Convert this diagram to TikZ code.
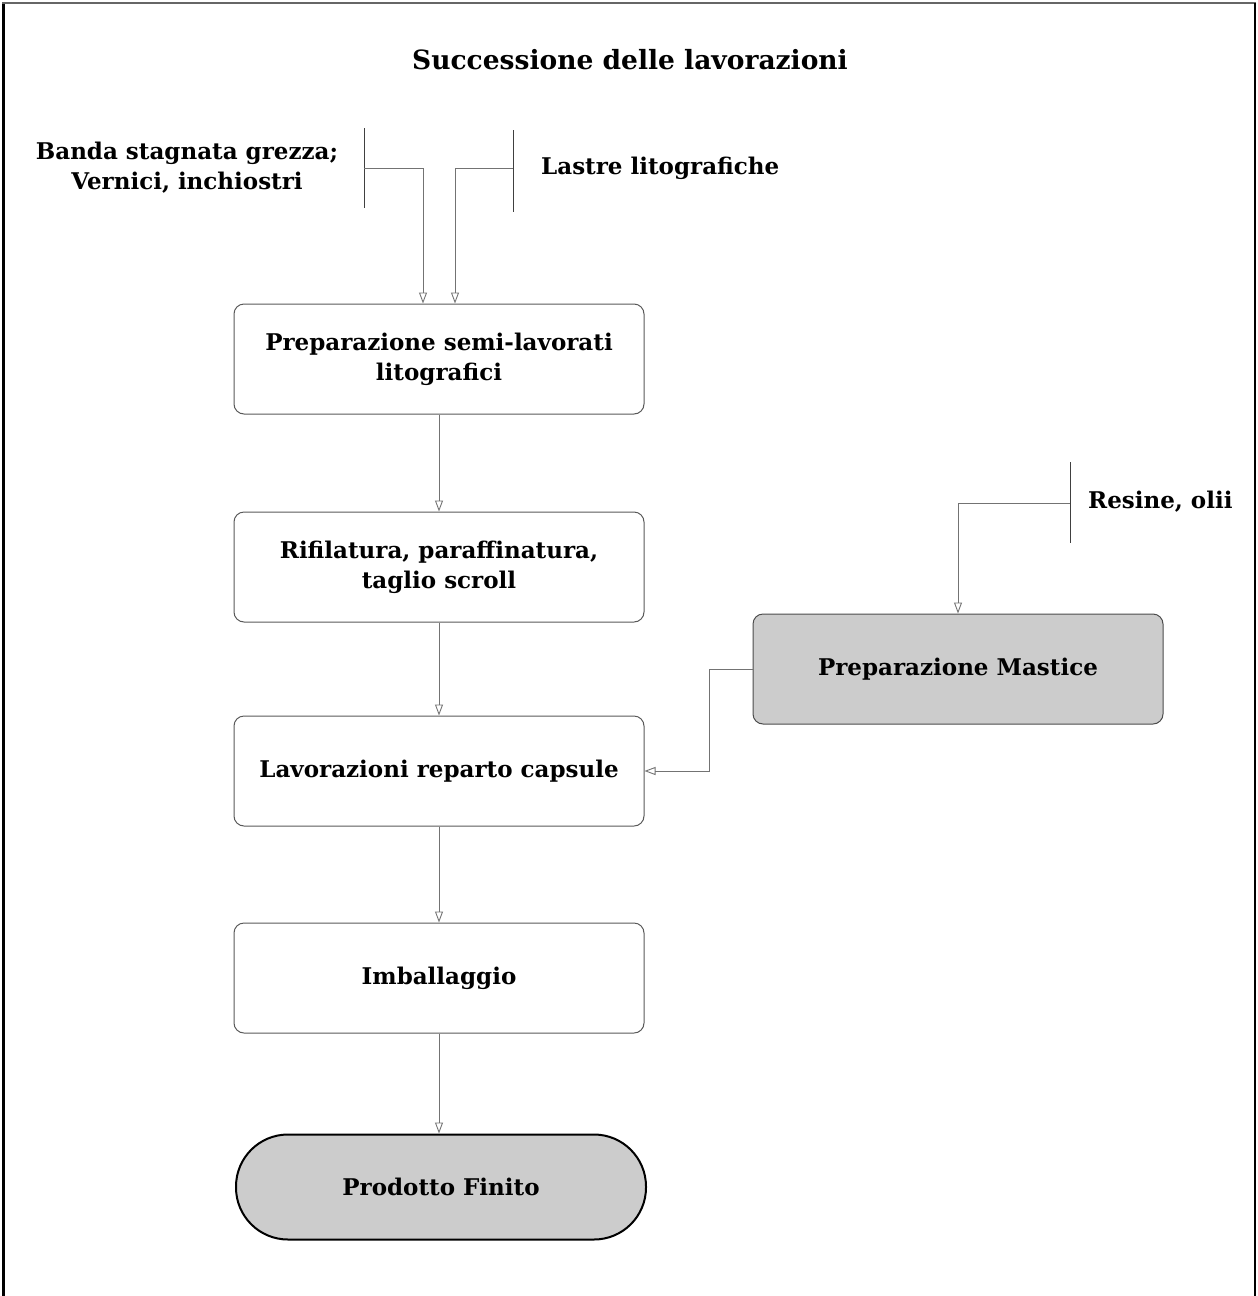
\documentclass[tikz,border=0pt]{standalone}
\usepackage{fontspec}
\setmainfont{DejaVu Serif}
\usetikzlibrary{arrows.meta}
\definecolor{lnc}{gray}{0.45}
\definecolor{boxc}{gray}{0.35}
\definecolor{fillc}{gray}{0.80}
\tikzset{
  txt/.style={font=\bfseries\fontsize{23}{30}\selectfont, align=center, inner sep=0pt},
  procbox/.style={txt, draw=boxc, line width=1pt, rounded corners=10pt,
    minimum width=410pt, minimum height=110pt},
  graybox/.style={procbox, fill=fillc, draw=black!70},
  termbox/.style={txt, draw=black, line width=2pt, fill=fillc, rounded corners=52pt,
    minimum width=410pt, minimum height=105pt},
  conn/.style={draw=lnc, line width=0.9pt, -{Triangle[open, length=11pt, width=8pt]}},
  brk/.style={draw=black!75, line width=1pt},
}
\begin{document}
\begin{tikzpicture}[x=1pt,y=-1pt]
\useasboundingbox (0,0) rectangle (1258,1296);
% frame
\draw[black, line width=3pt] (3,3) -- (3,1296);
\draw[black!60, line width=1.2pt] (2,3) -- (1256,3);
\draw[black, line width=1.5pt] (1255,3) -- (1255,1296);

\node[txt, font=\bfseries\fontsize{26.5}{30}\selectfont] (title) at (630,60) {Successione delle lavorazioni};

\node[txt] (in1) at (187,168) {Banda stagnata grezza;\\Vernici, inchiostri};
\node[txt, anchor=west] (in2) at (541,168) {Lastre litografiche};
\node[txt, anchor=west] (in3) at (1088,502) {Resine, olii};

\node[procbox] (p1) at (439,359) {Preparazione semi-lavorati\\litografici};
\node[procbox] (p2) at (439,567) {Rifilatura, paraffinatura,\\taglio scroll};
\node[procbox] (p3) at (439,771) {Lavorazioni reparto capsule};
\node[procbox] (p4) at (439,978) {Imballaggio};
\node[termbox] (pf) at (441,1187) {Prodotto Finito};
\node[graybox] (ms) at (958,669) {Preparazione Mastice};

% brackets
\draw[brk] (364,128) -- (364,208);
\draw[brk] (513,130) -- (513,212);
\draw[brk] (1070,462) -- (1070,543);
\coordinate (t1) at (364,168);
\coordinate (t2) at (513,168);
\coordinate (t3) at (1070,503);

\draw[conn] (t1) -| ([xshift=-16pt]p1.north);
\draw[conn] (t2) -| ([xshift=16pt]p1.north);
\draw[conn] (t3) -| (ms.north);

\draw[conn] (p1) -- (p2);
\draw[conn] (p2) -- (p3);
\draw[conn] (p3) -- (p4);
\draw[conn] (p4.south) -- (p4.south |- pf.north);
\draw[conn] (ms.west) -- ++(-43,0) |- (p3.east);
\end{tikzpicture}
\end{document}
